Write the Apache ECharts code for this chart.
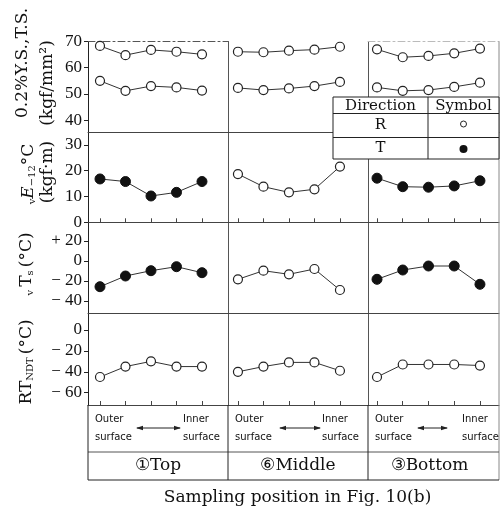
<!DOCTYPE html>
<html>
<head>
<meta charset="utf-8">
<script src="https://cdn.jsdelivr.net/npm/echarts@6/dist/echarts.min.js"></script>
<style>
  html, body { margin: 0; padding: 0; background: #fff; }
  #chart { width: 503px; height: 514px; }
</style>
</head>
<body>
<div id="chart"></div>
<script>
// Sampling points through the wall, outer surface (1) to inner surface (5)
const positions = [1, 2, 3, 4, 5];
const locations = ['①Top', '⑥Middle', '③Bottom'];

// Tensile strength and 0.2% yield strength (kgf/mm²), R direction
const tensileTop    = [68.3, 64.8, 66.8, 66.1, 65.1];
const tensileMiddle = [66.1, 65.9, 66.5, 66.9, 68.0];
const tensileBottom = [67.0, 64.0, 64.5, 65.5, 67.3];
const yieldTop      = [55.0, 51.2, 53.0, 52.5, 51.3];
const yieldMiddle   = [52.3, 51.5, 52.1, 53.0, 54.6];
const yieldBottom   = [52.5, 51.2, 51.5, 52.7, 54.3];

// Charpy absorbed energy at -12 °C (kgf·m)
const vETop    = [16.8, 15.8, 10.2, 11.6, 15.8];
const vEMiddle = [18.7, 13.8, 11.6, 12.8, 21.6];
const vEBottom = [17.1, 13.8, 13.6, 14.1, 16.1];

// Fracture appearance transition temperature vTs (°C)
const vTsTop    = [-25.7, -15, -9.7, -5.7, -11.7];
const vTsMiddle = [-18.3, -9.7, -13.3, -8, -29];
const vTsBottom = [-18.3, -9, -5, -5, -23.3];

// Nil-ductility transition temperature RT_NDT (°C)
const rtTop    = [-45, -35, -30, -35, -35];
const rtMiddle = [-40, -35, -31, -31, -39];
const rtBottom = [-45, -33, -33, -33, -34];

// Tick labels of each row
const strengthTicks = [40, 50, 60, 70];
const energyTicks   = [0, 10, 20, 30];
const vTsTicks      = [20, 0, -20, -40];
const rtTicks       = [0, -20, -40, -60];

// Series of each panel, row by row, column by column
const rowSeries = [
  [[tensileTop, yieldTop], [tensileMiddle, yieldMiddle], [tensileBottom, yieldBottom]],
  [[vETop], [vEMiddle], [vEBottom]],
  [[vTsTop], [vTsMiddle], [vTsBottom]],
  [[rtTop], [rtMiddle], [rtBottom]]
];
// Specimen direction of each panel (R = open symbol, T = solid symbol)
const rowDirection = [
  ['R', 'R', 'R'],
  ['T', 'R', 'T'],
  ['T', 'R', 'T'],
  ['R', 'R', 'R']
];
const rowTicks = [strengthTicks, energyTicks, vTsTicks, rtTicks];

// ---- layout ----
const COL_LEFT = [88, 228, 368];
const COL_W = [140, 140, 131];
const ROW_TOP = [41.5, 132, 222.3, 313];
const ROW_H = [90.5, 90.3, 90.7, 92];
const Y_RANGE = [[35.5, 70], [0, 35], [-52, 38.7], [-71.8, 16.3]];
const X_RANGE = [[0.53, 6.02], [0.61, 6.1], [0.65, 5.74]];
const RIGHT = COL_LEFT[2] + COL_W[2];
const TABLE_TOP = ROW_TOP[3] + ROW_H[3];
const TABLE_MID = 452;
const TABLE_BOTTOM = 480;

const INK = '#222';
const LINE = '#444';
const SERIF = 'DejaVu Serif';
const NUM_FONT = 'Liberation Serif';

function signed(v, plus) {
  if (v > 0) return plus ? '+ ' + v : String(v);
  if (v < 0) return '\u2212 ' + (-v);
  return '0';
}
const rowFormatter = [
  v => String(v),
  v => String(v),
  v => signed(v, true),
  v => signed(v, false)
];

const grids = [], xAxes = [], yAxes = [], series = [];

for (let r = 0; r < 4; r++) {
  for (let c = 0; c < 3; c++) {
    const g = grids.length;
    grids.push({
      left: COL_LEFT[c], top: ROW_TOP[r], width: COL_W[c], height: ROW_H[r],
      show: false, containLabel: false, outerBoundsMode: 'none'
    });
    const xi = xAxes.length;
    xAxes.push({
      gridIndex: g, type: 'value', min: X_RANGE[c][0], max: X_RANGE[c][1],
      position: 'bottom',
      axisLine: { show: true, onZero: false, lineStyle: { color: LINE, width: 1 } },
      axisTick: {
        show: r === 1 || r === 3, inside: true, length: 4, customValues: positions,
        lineStyle: { color: LINE, width: 1 }
      },
      axisLabel: { show: false },
      splitLine: { show: false }
    });
    if (r === 0) {
      // upper frame edge of the strength row
      xAxes.push({
        gridIndex: g, type: 'value', min: X_RANGE[c][0], max: X_RANGE[c][1],
        position: 'top',
        axisLine: {
          show: c !== 1, onZero: false,
          lineStyle: { color: c === 0 ? '#555' : '#bbb', width: 1, type: [7, 3, 2, 3] }
        },
        axisTick: { show: false }, axisLabel: { show: false }, splitLine: { show: false }
      });
    }
    const yi = yAxes.length;
    yAxes.push({
      gridIndex: g, type: 'value', min: Y_RANGE[r][0], max: Y_RANGE[r][1],
      position: 'left',
      axisLine: { show: true, onZero: false, lineStyle: { color: c === 0 ? INK : '#555', width: 1 } },
      axisTick: {
        show: c === 0, inside: false, length: 4, customValues: rowTicks[r],
        lineStyle: { color: INK, width: 1 }
      },
      axisLabel: {
        show: c === 0, customValues: rowTicks[r], formatter: rowFormatter[r],
        fontFamily: NUM_FONT, fontSize: 17, color: '#111', margin: 6
      },
      splitLine: { show: false }
    });
    const filled = rowDirection[r][c] === 'T';
    rowSeries[r][c].forEach(vals => {
      series.push({
        type: 'line', xAxisIndex: xi, yAxisIndex: yi,
        data: positions.map((p, i) => [p, vals[i]]),
        symbol: 'circle', symbolSize: filled ? 10 : 9, showSymbol: true,
        lineStyle: { color: '#333', width: 1 },
        itemStyle: filled
          ? { color: '#111', borderColor: '#111', borderWidth: 1 }
          : { color: '#fff', borderColor: INK, borderWidth: 1.2 },
        emphasis: { disabled: true }, silent: true, animation: false, z: 3
      });
    });
  }
}

// ---- annotations: axis titles, bottom table, symbol table ----
const graphics = [];
function vtext(x, y, text, fontSize, rich) {
  graphics.push({
    type: 'text', x: x, y: y, rotation: Math.PI / 2, silent: true, z: 10,
    style: {
      text: text, fontFamily: SERIF, fontSize: fontSize, fill: '#111',
      textAlign: 'center', textVerticalAlign: 'middle', rich: rich
    }
  });
}
function hline(x1, x2, y, color) {
  graphics.push({ type: 'line', silent: true, z: 10,
    shape: { x1: x1, y1: y, x2: x2, y2: y }, style: { stroke: color || LINE, lineWidth: 1 } });
}
function vline(x, y1, y2, color) {
  graphics.push({ type: 'line', silent: true, z: 10,
    shape: { x1: x, y1: y1, x2: x, y2: y2 }, style: { stroke: color || LINE, lineWidth: 1 } });
}
function text(x, y, str, font, size, align, extra) {
  graphics.push(Object.assign({ type: 'text', x: x, y: y, silent: true, z: 12,
    style: { text: str, fontFamily: font, fontSize: size, fill: '#111',
      textAlign: align || 'center', textVerticalAlign: 'middle' } }, extra || {}));
}

const richTitle = {
  n: { fontFamily: SERIF, fontSize: 17 },
  it: { fontFamily: SERIF, fontSize: 17, fontStyle: 'italic' },
  sub: { fontFamily: SERIF, fontSize: 10, verticalAlign: 'bottom' }
};
vtext(23, 63, '0.2%Y.S.,T.S.', 17);
vtext(48, 83, '(kgf/mm²)', 17);
vtext(29, 174, '{sub|v}{it|E}{sub|\u221212}{n|°C}', 17, richTitle);
vtext(48, 172, '(kgf·m)', 17);
vtext(27, 264, '{sub|v }{n|T}{sub|s }{n|(°C)}', 17, richTitle);
vtext(27, 362, '{n|RT}{sub|NDT }{n|(°C)}', 17, richTitle);

// right frame edge and the table under the plots
vline(RIGHT, ROW_TOP[0], TABLE_BOTTOM, '#888');
hline(COL_LEFT[0], RIGHT, TABLE_MID, '#555');
hline(COL_LEFT[0], RIGHT, TABLE_BOTTOM, INK);
[COL_LEFT[0], COL_LEFT[1], COL_LEFT[2]].forEach(x => vline(x, TABLE_TOP, TABLE_BOTTOM, INK));

const SMALL = 'DejaVu Sans';
const arrowSpan = [[137, 180], [280, 320], [418, 447]];
const innerX = [183, 322, 462];
for (let c = 0; c < 3; c++) {
  const x0 = COL_LEFT[c] + 7;
  text(x0, 419, 'Outer', SMALL, 10, 'left');
  text(x0, 437, 'surface', SMALL, 10, 'left');
  text(innerX[c], 419, 'Inner', SMALL, 10, 'left');
  text(innerX[c], 437, 'surface', SMALL, 10, 'left');
  const [a, b] = arrowSpan[c], ay = 428;
  hline(a, b, ay, INK);
  graphics.push({ type: 'polygon', silent: true, z: 12,
    shape: { points: [[a - 1, ay], [a + 6, ay - 2.2], [a + 6, ay + 2.2]] }, style: { fill: INK } });
  graphics.push({ type: 'polygon', silent: true, z: 12,
    shape: { points: [[b + 1, ay], [b - 6, ay - 2.2], [b - 6, ay + 2.2]] }, style: { fill: INK } });
  text(COL_LEFT[c] + COL_W[c] / 2 + (c === 2 ? -4 : 0), 466, locations[c], SERIF, 17, 'center');
}
text((COL_LEFT[0] + RIGHT) / 2 + 4, 498, 'Sampling position in Fig. 10(b)', SERIF, 17, 'center');

// symbol table
const LX = 333, LY = 97, LW = RIGHT - 333, LH = 62, LSPLIT = 428;
graphics.push({ type: 'rect', silent: true, z: 11,
  shape: { x: LX, y: LY, width: LW, height: LH },
  style: { fill: '#fff', stroke: INK, lineWidth: 1 } });
graphics.push({ type: 'line', silent: true, z: 12,
  shape: { x1: LX, y1: LY + 16.5, x2: LX + LW, y2: LY + 16.5 }, style: { stroke: INK, lineWidth: 1 } });
graphics.push({ type: 'line', silent: true, z: 12,
  shape: { x1: LX, y1: LY + 40.5, x2: LX + LW, y2: LY + 40.5 }, style: { stroke: INK, lineWidth: 1 } });
graphics.push({ type: 'line', silent: true, z: 12,
  shape: { x1: LSPLIT, y1: LY, x2: LSPLIT, y2: LY + LH }, style: { stroke: INK, lineWidth: 1 } });
text((LX + LSPLIT) / 2, LY + 9, 'Direction', SERIF, 15, 'center');
text((LSPLIT + LX + LW) / 2, LY + 9, 'Symbol', SERIF, 15, 'center');
text((LX + LSPLIT) / 2, LY + 28.5, 'R', SERIF, 15, 'center');
text((LX + LSPLIT) / 2, LY + 51.5, 'T', SERIF, 15, 'center');
graphics.push({ type: 'circle', silent: true, z: 12,
  shape: { cx: (LSPLIT + LX + LW) / 2, cy: LY + 27, r: 3 },
  style: { fill: '#fff', stroke: INK, lineWidth: 1 } });
graphics.push({ type: 'circle', silent: true, z: 12,
  shape: { cx: (LSPLIT + LX + LW) / 2, cy: LY + 52, r: 4 },
  style: { fill: '#111' } });

const chart = echarts.init(document.getElementById('chart'), null, { renderer: 'canvas' });
chart.setOption({
  backgroundColor: '#fff',
  animation: false,
  grid: grids,
  xAxis: xAxes,
  yAxis: yAxes,
  series: series,
  graphic: { elements: graphics }
});
</script>
</body>
</html>
